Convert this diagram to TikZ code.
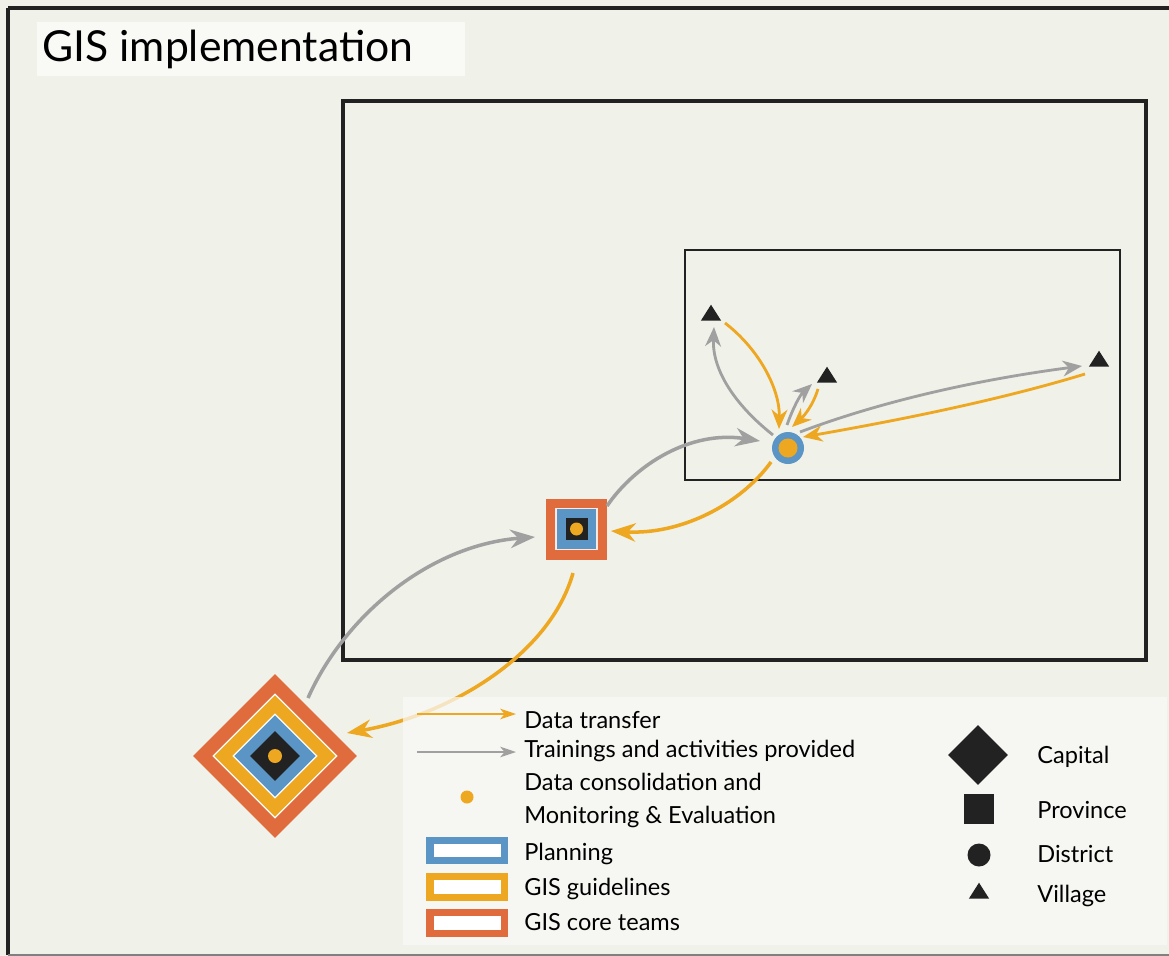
\documentclass[tikz,border=0pt]{standalone}
\usepackage{fontspec}
\setmainfont{Lato}
\usetikzlibrary{shapes.geometric,arrows.meta}
\definecolor{bgc}{HTML}{F0F1E8}
\definecolor{legc}{HTML}{F9F9F6}
\definecolor{cteam}{HTML}{E06B3C}
\definecolor{cguide}{HTML}{EEA720}
\definecolor{cplan}{HTML}{5B95C6}
\definecolor{cdark}{HTML}{222222}
\definecolor{cgray}{HTML}{A0A0A0}
\tikzset{
  tip/.style={-{Stealth[length=14pt,width=10.5pt,inset=4.5pt]}},
  smalltip/.style={-{Stealth[length=11pt,width=9pt,inset=3.5pt]}},
  dataarrow/.style={draw=cguide,line width=2pt,tip},
  trainarrow/.style={draw=cgray,line width=2pt,tip},
  sdataarrow/.style={draw=cguide,line width=1.6pt,smalltip},
  strainarrow/.style={draw=cgray,line width=1.6pt,smalltip},
  village/.style={isosceles triangle,isosceles triangle apex angle=65,shape border rotate=90,fill=cdark,inner sep=0pt,minimum height=9pt,minimum width=10pt},
  dia/.style={diamond,aspect=1,inner sep=0pt},
  sq/.style={rectangle,inner sep=0pt},
  dot/.style={circle,fill=cguide,inner sep=0pt},
  legtext/.style={anchor=base west,font=\fontsize{13.4pt}{15pt}\selectfont,text=black,inner sep=0pt},
  swatch/.style={draw,fill=white,line width=4.2pt},
}
\begin{document}
\begin{tikzpicture}[x=0.02cm,y=-0.02cm]
\useasboundingbox (0,0) rectangle (1169,956);
\fill[bgc] (0,0) rectangle (1169,956);
% outer frame
\draw[cdark,line width=1.8pt] (8,8) -- (1172,8);
\draw[cdark,line width=1.8pt] (8,8) -- (8,955);
\draw[gray,line width=0.8pt] (8,955) -- (1172,955);
% title
\node[fill=legc,minimum width=428*0.02cm,minimum height=54*0.02cm,anchor=north west,inner sep=0pt] (titlebox) at (37,22) {};
\node[anchor=base west,inner sep=0pt,font=\fontsize{24.3pt}{26pt}\selectfont] (title) at (42,62) {GIS implementation};
% frames
\draw[cdark,line width=1.8pt] (343,101) rectangle (1146,660);
\coordinate (provframe) at (343,101);
\draw[cdark,line width=0.8pt] (685,250) rectangle (1120,480);
\coordinate (distframe) at (685,250);

% capital
\node[dia,fill=cteam,minimum size=164*0.02cm] (cap) at (275,756) {};
\node[dia,fill=cguide,draw=white,line width=0.7pt,minimum size=124*0.02cm] (capg) at (275,756) {};
\node[dia,fill=cplan,draw=white,line width=0.7pt,minimum size=84*0.02cm] (capp) at (275,756) {};
\node[dia,fill=cdark,minimum size=50*0.02cm] (capc) at (275,756) {};
\node[dot,minimum size=14*0.02cm] (capd) at (275,756) {};

% province
\node[sq,fill=cteam,minimum size=61*0.02cm] (prov) at (576.5,529) {};
\node[sq,fill=cplan,draw=white!85!cteam,line width=0.7pt,minimum size=41*0.02cm] (provp) at (576.5,529) {};
\node[sq,fill=cdark,minimum size=22*0.02cm] (provc) at (576.5,529) {};
\node[dot,minimum size=13*0.02cm] (provd) at (576.5,529) {};

% district
\node[circle,fill=cplan,inner sep=0pt,minimum size=32*0.02cm] (dist) at (788,448) {};
\node[dot,minimum size=19*0.02cm] (distd) at (788,448) {};

% villages
\node[village] (v1) at (711,315) {};
\node[village] (v2) at (827,377) {};
\node[village] (v3) at (1099,361) {};

% connectors capital <-> province
\coordinate (c1s) at (308,698);
\coordinate (c1e) at (535,537);
\draw[trainarrow] (c1s) .. controls (345,615) and (430,545) .. (c1e);
\coordinate (c2s) at (573,573);
\coordinate (c2e) at (347,733);
\draw[dataarrow] (c2s) .. controls (550,655) and (450,715) .. (c2e);

% province <-> district
\coordinate (c3s) at (607,506);
\coordinate (c3e) at (760,441);
\draw[trainarrow] (c3s) .. controls (635,465) and (690,430) .. (c3e);
\coordinate (c4s) at (771,462);
\coordinate (c4e) at (611,531);
\draw[dataarrow] (c4s) .. controls (740,505) and (680,535) .. (c4e);

% district <-> villages
\coordinate (c5s) at (773,435);
\coordinate (c5e) at (714,327);
\draw[strainarrow] (c5s) .. controls (735,405) and (712,370) .. (c5e);
\coordinate (c6s) at (725,323);
\coordinate (c6e) at (779,429);
\draw[sdataarrow] (c6s) .. controls (760,350) and (780,390) .. (c6e);
\coordinate (c7s) at (787,425);
\coordinate (c7e) at (812,384);
\draw[strainarrow] (c7s) .. controls (793,408) and (800,395) .. (c7e);
\coordinate (c8s) at (818,389);
\coordinate (c8e) at (792,427);
\draw[sdataarrow] (c8s) .. controls (813,405) and (805,415) .. (c8e);
\coordinate (c9s) at (800,432);
\coordinate (c9e) at (1082,366);
\draw[strainarrow] (c9s) .. controls (890,398) and (990,378) .. (c9e);
\coordinate (c10s) at (1085,374);
\coordinate (c10e) at (803,437);
\draw[sdataarrow] (c10s) .. controls (1000,400) and (900,420) .. (c10e);

% legend box (semi transparent over the arrow)
\fill[legc,fill opacity=0.75] (403,697) rectangle (1167,945);
\coordinate (legbox) at (403,697);

% legend items
\coordinate (l1s) at (417,714);
\coordinate (l1e) at (516,714);
\draw[draw=cguide,line width=1pt,-{Stealth[length=9pt,width=6pt,inset=2.5pt]}] (l1s) -- (l1e);
\node[legtext] (t1) at (524,728) {Data transfer};
\coordinate (l2s) at (417,752);
\coordinate (l2e) at (516,752);
\draw[draw=cgray,line width=1pt,-{Stealth[length=9pt,width=6pt,inset=2.5pt]}] (l2s) -- (l2e);
\node[legtext] (t2) at (524,757) {Trainings and activities provided};
\node[dot,minimum size=13*0.02cm] (ldot) at (467,797) {};
\node[legtext] (t3) at (524,790) {Data consolidation and};
\node[legtext] (t4) at (524,823) {Monitoring \& Evaluation};
\draw[swatch,draw=cplan] (430,840.5) rectangle (504.5,860.5);
\coordinate (sw1) at (430,840);
\node[legtext] (t5) at (524,860) {Planning};
\draw[swatch,draw=cguide] (430,876.5) rectangle (504.5,897.5);
\coordinate (sw2) at (430,876);
\node[legtext] (t6) at (524,895) {GIS guidelines};
\draw[swatch,draw=cteam] (430,912.5) rectangle (504.5,933.5);
\coordinate (sw3) at (430,912);
\node[legtext] (t7) at (524,930) {GIS core teams};

\node[dia,fill=cdark,minimum size=60*0.02cm] (lcap) at (978,755) {};
\node[legtext] (t8) at (1037,763) {Capital};
\node[sq,fill=cdark,minimum size=30*0.02cm] (lprov) at (978.5,809) {};
\node[legtext] (t9) at (1037,818) {Province};
\node[circle,fill=cdark,inner sep=0pt,minimum size=23*0.02cm] (ldist) at (979,855) {};
\node[legtext] (t10) at (1037,862) {District};
\node[village] (lvil) at (979,893) {};
\node[legtext] (t11) at (1037,902) {Village};
\end{tikzpicture}
\end{document}
